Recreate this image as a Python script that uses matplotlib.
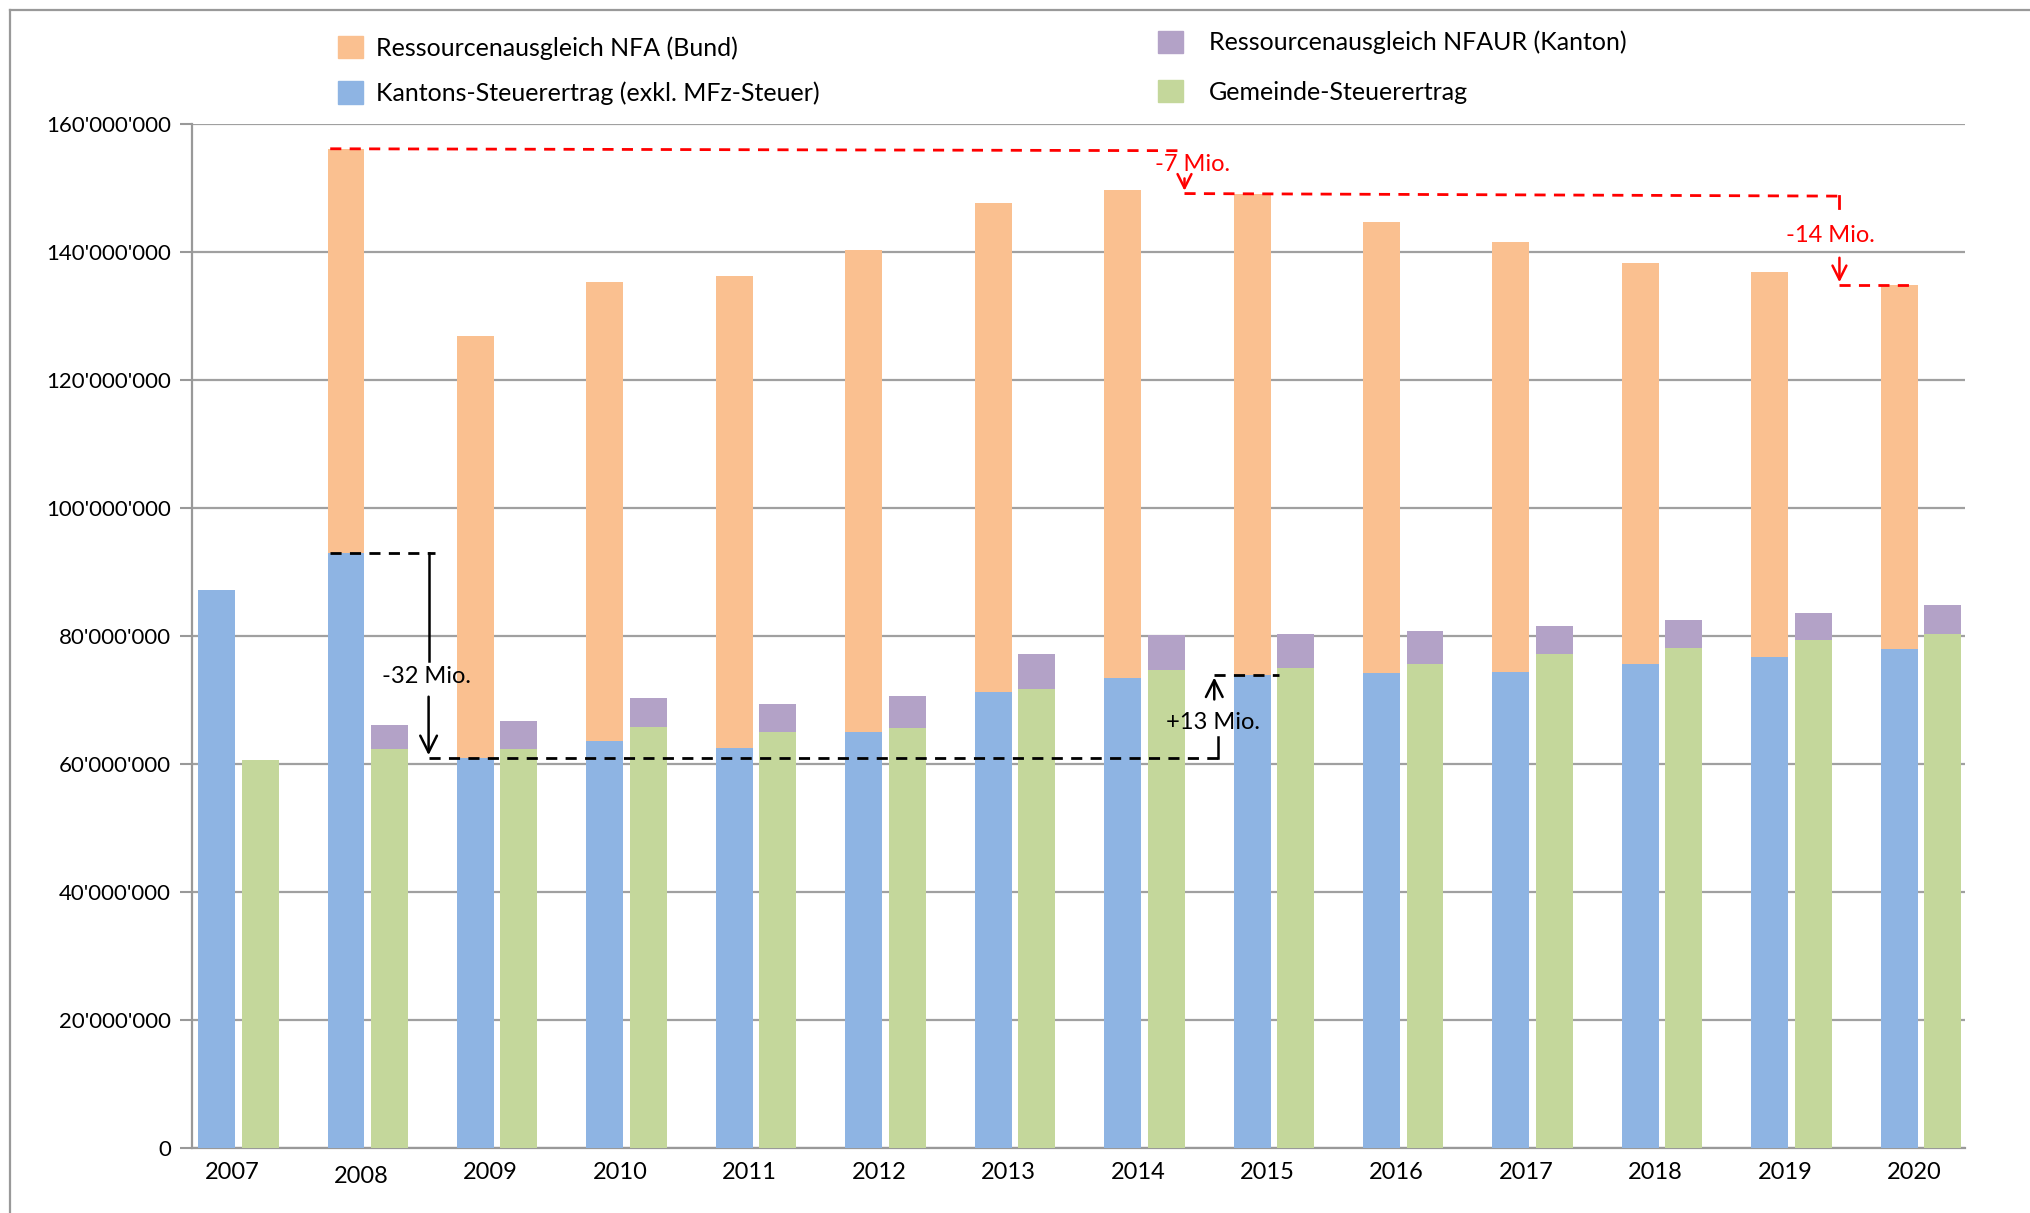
import numpy as np
import matplotlib
matplotlib.use('Agg')
import matplotlib.pyplot as plt
from matplotlib.patches import Patch
from matplotlib.lines import Line2D
from matplotlib.ticker import FuncFormatter

plt.rcParams['font.family'] = ['Lato', 'DejaVu Sans']

# Daten (Werte in Franken)
jahre = ['2007', '2008', '2009', '2010', '2011', '2012', '2013',
         '2014', '2015', '2016', '2017', '2018', '2019', '2020']
kanton = [87.3, 93.0, 61.0, 63.6, 62.6, 65.0, 71.3, 73.5, 73.9, 74.3, 74.4, 75.7, 76.8, 78.0]
nfa_total = [0, 156.1, 127.0, 135.3, 136.3, 140.4, 147.8, 149.7, 149.1, 144.8, 141.6, 138.3, 136.9, 134.9]
gemeinde = [60.6, 62.4, 62.4, 65.8, 65.0, 65.6, 71.7, 74.7, 75.1, 75.7, 77.2, 78.2, 79.4, 80.4]
nfaur_total = [0, 66.2, 66.8, 70.3, 69.5, 70.7, 77.2, 80.2, 80.4, 80.8, 81.6, 82.6, 83.6, 84.9]

mio = 1e6
kanton = np.array(kanton) * mio
gemeinde = np.array(gemeinde) * mio
nfa = np.maximum(np.array(nfa_total) * mio - kanton, 0)
nfaur = np.maximum(np.array(nfaur_total) * mio - gemeinde, 0)

c_orange = '#FAC090'
c_blau = '#8EB4E3'
c_lila = '#B3A2C7'
c_gruen = '#C4D79B'

fig = plt.figure(figsize=(20.31, 12.13), dpi=100)
ax = fig.add_axes([0.0944, 0.0534, 0.8731, 0.8440])

x = np.arange(len(jahre))
w = 0.285
ax.bar(x - 0.168, kanton, w, color=c_blau, zorder=3)
ax.bar(x - 0.168, nfa, w, bottom=kanton, color=c_orange, zorder=3)
ax.bar(x + 0.168, gemeinde, w, color=c_gruen, zorder=3)
ax.bar(x + 0.168, nfaur, w, bottom=gemeinde, color=c_lila, zorder=3)

ax.set_xlim(-0.36, 13.34)
ax.set_ylim(0, 160 * mio)
ax.set_yticks(np.arange(0, 161, 20) * mio)
ax.yaxis.set_major_formatter(FuncFormatter(lambda v, p: f"{int(v):,}".replace(',', "'")))
ax.set_xticks(x - 0.05)
ax.set_xticklabels(jahre)
ax.tick_params(axis='x', length=0, labelsize=17, pad=10)
ax.tick_params(axis='y', length=9, width=1.5, color='#999999', labelsize=16, pad=6)
ax.grid(axis='y', color='#a0a0a0', linewidth=1.6, zorder=0)
ax.spines['top'].set_visible(False)
ax.spines['right'].set_visible(False)
for s in ['left', 'bottom']:
    ax.spines[s].set_color('#999999')
    ax.spines[s].set_linewidth(1.6)
# 2008 etwas tiefer
ax.get_xticklabels()[1].set_y(-0.004)

# Annotationen schwarz
dash = (0, (4, 3))
ax.plot([0.71, 1.52], [93.0 * mio, 93.0 * mio], color='black', lw=2, ls=dash, zorder=5)
ax.plot([1.47, 1.47], [93.0 * mio, 76.2 * mio], color='black', lw=1.8, zorder=5)
ax.annotate('', xy=(1.47, 61.0 * mio), xytext=(1.47, 71.0 * mio),
            arrowprops=dict(arrowstyle='->', color='black', lw=1.8, mutation_scale=30), zorder=5)
ax.text(1.45, 73.8 * mio, '-32 Mio.', fontsize=17, ha='center', va='center', zorder=6)
ax.plot([1.47, 7.57], [61.0 * mio, 61.0 * mio], color='black', lw=2, ls=dash, zorder=5)
ax.plot([7.57, 7.57], [61.0 * mio, 64.2 * mio], color='black', lw=1.8, zorder=5)
ax.annotate('', xy=(7.54, 74.0 * mio), xytext=(7.54, 69.7 * mio),
            arrowprops=dict(arrowstyle='->', color='black', lw=1.8, mutation_scale=30), zorder=5)
ax.plot([7.54, 8.04], [74.0 * mio, 74.0 * mio], color='black', lw=2, ls=dash, zorder=5)
ax.text(7.53, 66.6 * mio, '+13 Mio.', fontsize=17, ha='center', va='center', zorder=6)

# Annotationen rot
ax.plot([0.71, 7.30], [156.2 * mio, 155.9 * mio], color='red', lw=2, ls=dash, zorder=5)
ax.annotate('', xy=(7.31, 149.2 * mio), xytext=(7.31, 152.0 * mio),
            arrowprops=dict(arrowstyle='->', color='red', lw=1.8, mutation_scale=25), zorder=5)
ax.text(7.37, 153.8 * mio, '-7 Mio.', fontsize=17, color='red', ha='center', va='center', zorder=6)
ax.plot([7.31, 12.37], [149.2 * mio, 148.8 * mio], color='red', lw=2, ls=dash, zorder=5)
ax.plot([12.37, 12.37], [148.8 * mio, 147.0 * mio], color='red', lw=2, zorder=5)
ax.text(12.30, 142.6 * mio, '-14 Mio.', fontsize=17, color='red', ha='center', va='center', zorder=6)
ax.annotate('', xy=(12.37, 134.9 * mio), xytext=(12.37, 139.6 * mio),
            arrowprops=dict(arrowstyle='->', color='red', lw=1.8, mutation_scale=25), zorder=5)
ax.plot([12.37, 12.96], [134.9 * mio, 134.9 * mio], color='red', lw=2, ls=dash, zorder=5)

# Legende
leg_kw = dict(frameon=False, fontsize=18, handlelength=1.0, handleheight=1.0,
              handletextpad=0.55, labelspacing=0.87, borderpad=0, loc='upper left')
fig.legend(handles=[Patch(color=c_orange, label='Ressourcenausgleich NFA (Bund)'),
                    Patch(color=c_blau, label='Kantons-Steuerertrag (exkl. MFz-Steuer)')],
           bbox_to_anchor=(251 / 1568, 1 - 18 / 936), **leg_kw)
fig.legend(handles=[Patch(color=c_lila, label='Ressourcenausgleich NFAUR (Kanton)'),
                    Patch(color=c_gruen, label='Gemeinde-Steuerertrag')],
           bbox_to_anchor=(884 / 1568, 1 - 14 / 936),
           **dict(leg_kw, handletextpad=1.05, labelspacing=1.02))

# Rahmen
fig.add_artist(Line2D([0.0051, 1.0], [0.9915, 0.9915], color='#999999', lw=1.6))
fig.add_artist(Line2D([0.0051, 0.0051], [0.0, 0.9915], color='#999999', lw=1.6))

fig.savefig('out.png', dpi=100)
